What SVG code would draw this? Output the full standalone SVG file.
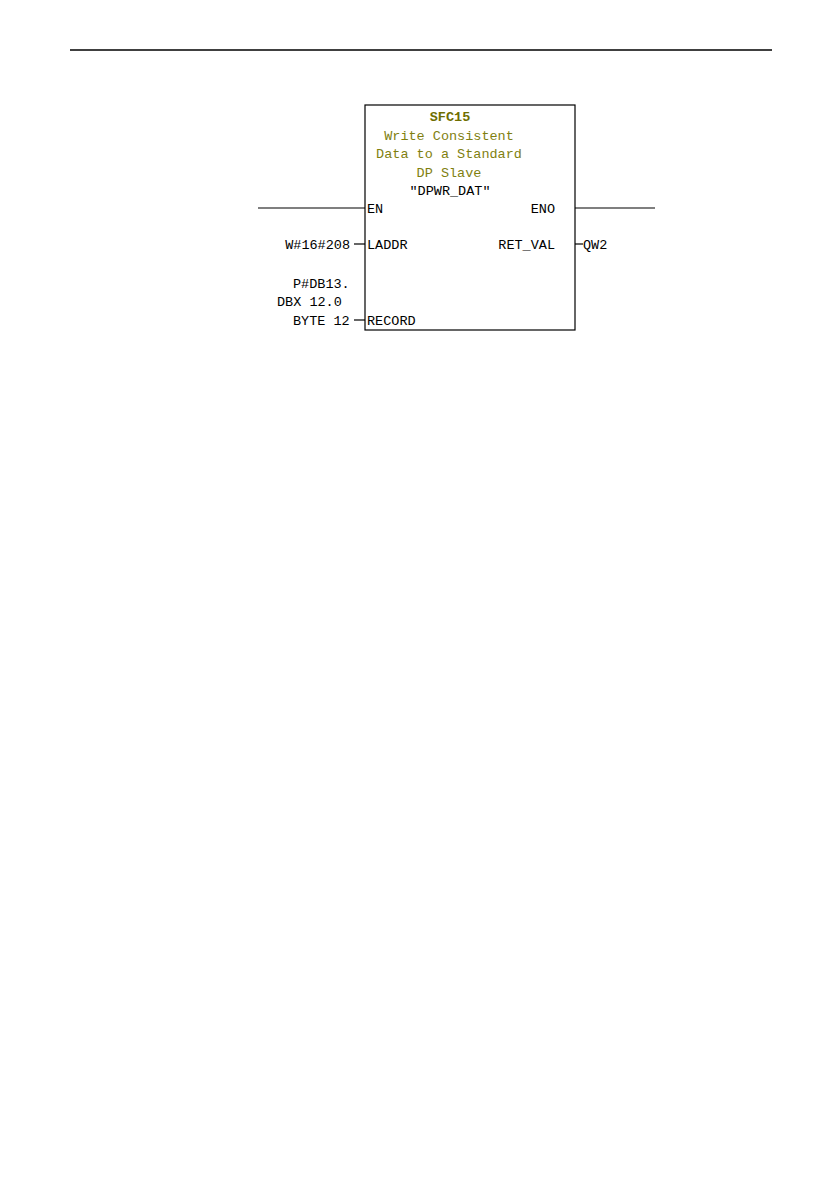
<svg xmlns="http://www.w3.org/2000/svg" width="839" height="1191" viewBox="0 0 839 1191">
<style>
.t{font-family:"Liberation Mono","DejaVu Sans Mono",monospace;font-size:13.5px;fill:#000}
.o{fill:#7f7f10}
.b{font-weight:bold;fill:#6e6e00}
.ln{stroke:#000;stroke-width:1.2;fill:none}
</style>
<rect width="839" height="1191" fill="#fff"/>
<line x1="70" y1="50" x2="772" y2="50" stroke="#000" stroke-width="1.3"/>
<g id="sfc15">
<rect x="365" y="105" width="210" height="225" class="ln"/>
<text class="t b" x="450" y="121" text-anchor="middle">SFC15</text>
<text class="t o" x="449" y="140" text-anchor="middle">Write Consistent</text>
<text class="t o" x="449" y="158" text-anchor="middle">Data to a Standard</text>
<text class="t o" x="449" y="177" text-anchor="middle">DP Slave</text>
<text class="t" x="450" y="195" text-anchor="middle">"DPWR_DAT"</text>
<text class="t" x="367" y="213">EN</text>
<text class="t" x="555" y="213" text-anchor="end">ENO</text>
<text class="t" x="367" y="249">LADDR</text>
<text class="t" x="555" y="249" text-anchor="end">RET_VAL</text>
<text class="t" x="367" y="325">RECORD</text>
</g>
<g id="in_laddr"><text class="t" x="350" y="249" text-anchor="end">W#16#208</text></g>
<g id="in_record">
<text class="t" x="293" y="288">P#DB13.</text>
<text class="t" x="277" y="306">DBX 12.0</text>
<text class="t" x="293" y="325">BYTE 12</text>
</g>
<g id="out_retval"><text class="t" x="583" y="249">QW2</text></g>
<g id="connectors">
<line x1="258" y1="208" x2="365" y2="208" class="ln"/>
<line x1="575" y1="208" x2="655" y2="208" class="ln"/>
<line x1="354" y1="244" x2="365" y2="244" class="ln"/>
<line x1="354" y1="320" x2="365" y2="320" class="ln"/>
<line x1="575" y1="244" x2="583" y2="244" class="ln"/>
</g>
</svg>
